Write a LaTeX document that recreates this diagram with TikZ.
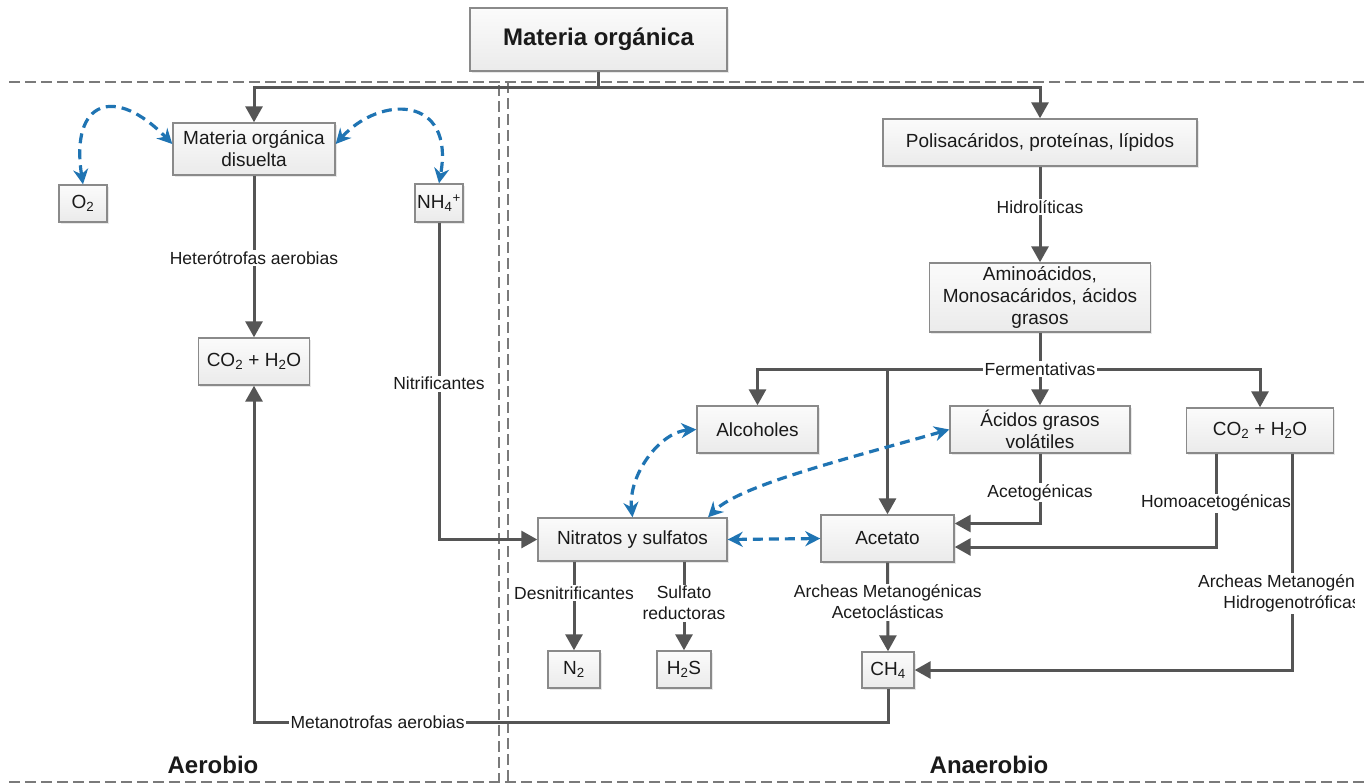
\documentclass[tikz,border=0pt]{standalone}
\usepackage{fontspec}
\setmainfont{Liberation Sans}
\usetikzlibrary{arrows.meta,shadows}

\definecolor{linegray}{HTML}{555555}
\definecolor{framegray}{HTML}{8A8A8A}
\definecolor{zonegray}{HTML}{7A7A7A}
\definecolor{flowblue}{HTML}{1F74B3}
\definecolor{inkgray}{HTML}{1A1A1A}

\tikzset{
  stage/.style={draw=framegray, line width=1.4pt, top color=gray!3, bottom color=gray!16,
    text=inkgray, align=center, inner sep=0pt, font=\fontsize{19}{22}\selectfont,
    drop shadow={shadow xshift=1.5pt, shadow yshift=-1.5pt, opacity=0.18}},
  flow/.style={draw=linegray, line width=3pt, -{Triangle[length=16pt,width=17pt]}},
  plain/.style={draw=linegray, line width=3pt},
  tag/.style={fill=white, text=inkgray, inner sep=1.5pt, align=center,
    font=\fontsize{17.5}{21}\selectfont},
  link/.style={draw=flowblue, line width=3.2pt, dash pattern=on 10pt off 6pt,
    {Stealth[length=15pt,width=15pt]}-{Stealth[length=15pt,width=15pt]}},
  zone/.style={draw=zonegray, line width=2.2pt, dash pattern=on 11pt off 5pt},
  zonename/.style={font=\fontsize{24}{28}\selectfont\bfseries, text=inkgray},
}

\begin{document}
\begin{tikzpicture}[x=1pt,y=-1pt]
\useasboundingbox (0,0) rectangle (1370,784);
\fill[white] (0,0) rectangle (1370,784);
\begin{scope}
\clip (0,0) rectangle (1370,784);

% aerobic / anaerobic zones
\draw[zone] (9,82) -- (1366,82);
\draw[zone] (9,782) -- (1366,782);
\draw[zone] (499,85) -- (499,782);
\draw[zone] (508,82) -- (508,782);

% boxes
\node[stage, minimum width=257pt, minimum height=63pt, font=\fontsize{24}{28}\selectfont\bfseries] (mo) at (598.5,39.5) {Materia orgánica};
\node[stage, minimum width=162pt, minimum height=52pt] (mod) at (254,149) {Materia orgánica\\disuelta};
\node[stage, minimum width=48pt, minimum height=37pt] (o2) at (83,203.5) {O\textsubscript{2}};
\node[stage, minimum width=48pt, minimum height=38pt] (nh4) at (439,203) {NH\textsubscript{4}\textsuperscript{+}};
\node[stage, minimum width=111pt, minimum height=47pt] (co2a) at (254,361.5) {CO\textsubscript{2} + H\textsubscript{2}O};
\node[stage, minimum width=314pt, minimum height=47pt] (pol) at (1040,142.5) {Polisacáridos, proteínas, lípidos};
\node[stage, minimum width=221pt, minimum height=69pt] (ami) at (1040,297.5) {Aminoácidos,\\Monosacáridos, ácidos\\grasos};
\node[stage, minimum width=121pt, minimum height=47pt] (alc) at (757.5,429.5) {Alcoholes};
\node[stage, minimum width=180pt, minimum height=47pt] (acg) at (1040,429.5) {Ácidos grasos\\volátiles};
\node[stage, minimum width=147pt, minimum height=45pt] (co2b) at (1260,430.5) {CO\textsubscript{2} + H\textsubscript{2}O};
\node[stage, minimum width=189pt, minimum height=43pt] (nit) at (632.5,539.5) {Nitratos y sulfatos};
\node[stage, minimum width=133pt, minimum height=47pt] (ace) at (887.5,538.5) {Acetato};
\node[stage, minimum width=52pt, minimum height=37pt] (n2) at (574,669.5) {N\textsubscript{2}};
\node[stage, minimum width=54pt, minimum height=37pt] (h2s) at (684,669.5) {H\textsubscript{2}S};
\node[stage, minimum width=52pt, minimum height=36pt] (ch4) at (888,670) {CH\textsubscript{4}};

\node[tag] (ferm) at (1040,369) {Fermentativas};

% organic matter split into both zones
\coordinate (tj) at (598.5,87);
\draw[plain] (mo.south) -- (tj);
\draw[flow] (tj) -| (mod.north);
\draw[flow] (tj) -| (pol.north);

% aerobic side
\draw[flow] (mod.south) -- node[tag,pos=0.51] {Heterótrofas aerobias} (co2a.north);
\draw[flow] (nh4.south) |- node[tag,pos=0.254] {Nitrificantes} (nit.west);
\draw[link] (o2.north) .. controls (70,100) and (115,85) .. ([yshift=5pt]mod.west);
\draw[link] ([yshift=5pt]mod.east) .. controls (380,95) and (455,95) .. (nh4.north);

% anaerobic chain
\draw[flow] (pol.south) -- node[tag,pos=0.42] {Hidrolíticas} (ami.north);
\draw[plain] (ami.south) -- (ferm.north);
\draw[flow] (ferm.south) -- (acg.north);
\draw[flow] (ferm.west) -| (alc.north);
\draw[flow] (ferm.west) -| (ace.north);
\draw[flow] (ferm.east) -| (co2b.north);

\draw[flow] (acg.south) |- node[tag,pos=0.277] {Acetogénicas} ([yshift=15pt]ace.east);
\draw[flow] ([xshift=-44pt]co2b.south) |- node[tag,pos=0.266] {Homoacetogénicas} ([yshift=-8.5pt]ace.east);
\begin{scope}
\clip (0,0) rectangle (1354,784);
\draw[flow] ([xshift=32pt]co2b.south) |- node[tag,pos=0.323] {Archeas Metanogénicas\\Hidrogenotróficas} (ch4.east);
\end{scope}

\draw[flow] (n2.north |- nit.south) -- node[tag,pos=0.356] {Desnitrificantes} (n2.north);
\draw[flow] (h2s.north |- nit.south) -- node[tag,pos=0.467] {Sulfato\\reductoras} (h2s.north);
\draw[flow] (ace.south) -- node[tag,pos=0.444] {Archeas Metanogénicas\\Acetoclásticas} (ch4.north);

\coordinate (mt) at (888,722);
\draw[flow] (ch4.south) -- (mt) -| node[tag,pos=0.4025] {Metanotrofas aerobias} (co2a.south);

% electron acceptor / donor exchanges
\draw[link] (alc.west) .. controls (660,432) and (628,475) .. (nit.north);
\draw[link] (acg.west) .. controls (850,458) and (740,485) .. ([xshift=75.5pt]nit.north);
\draw[link] (nit.east) -- (ace.west);

% zone names
\node[zonename] (aer) at (213,765) {Aerobio};
\node[zonename] (ana) at (989,765) {Anaerobio};
\end{scope}
\end{tikzpicture}
\end{document}
